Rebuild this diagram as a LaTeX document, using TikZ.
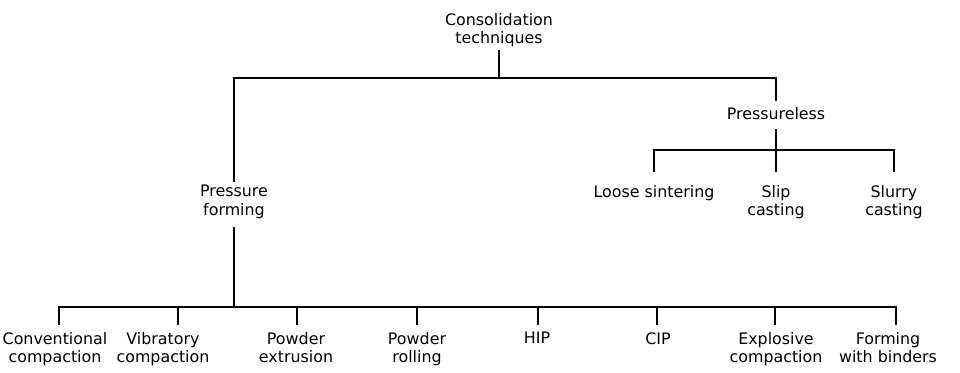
\documentclass[tikz,border=0pt]{standalone}
\usepackage{fontspec}
\setmainfont{DejaVu Sans}
\begin{document}
\begin{tikzpicture}[x=0.75pt,y=-0.75pt,
  lbl/.style={font=\fontsize{11.9}{13.9}\selectfont, align=center, inner sep=2.25pt, anchor=north},
  link/.style={line width=1.2pt, line join=miter}]
\useasboundingbox (0,0) rectangle (960,372);

% top level
\node[lbl] (root) at (499,10) {Consolidation\\techniques};
\node[lbl] (pf) at (234,182) {Pressure\\forming};
\node[lbl] (pl) at (776,104) {Pressureless};

% pressureless branch
\node[lbl] (ls)  at (654,182) {Loose sintering};
\node[lbl] (sc)  at (776,182) {Slip\\casting};
\node[lbl] (slc) at (894,182) {Slurry\\casting};

% pressure forming branch
\node[lbl] (c1) at (55,329)  {Conventional\\compaction};
\node[lbl] (c2) at (163,329) {Vibratory\\compaction};
\node[lbl] (c3) at (296,329) {Powder\\extrusion};
\node[lbl] (c4) at (417,329) {Powder\\rolling};
\node[lbl] (c5) at (537,329) {HIP};
\node[lbl] (c6) at (658,329) {CIP};
\node[lbl] (c7) at (776,329) {Explosive\\compaction};
\node[lbl] (c8) at (888,329) {Forming\\with binders};

% junction points on the horizontal bars
\coordinate (tb) at (499,78);
\coordinate (pb) at (776,150);
\coordinate (fb) at (234,307);

% connectors
\draw[link] (root.south) -- (tb);
\draw[link, shorten >=2.25pt] (pf.north) |- (tb) -| (pl.north);

\draw[link, shorten <=4.5pt] (pl.south) -- (pb);
\draw[link, shorten >=7.5pt] (pb) -- (sc.north);
\draw[link, shorten <=7.5pt, shorten >=7.5pt] (ls.north) |- (pb) -| (slc.north);

\draw[link, shorten <=4pt] (pf.south) -- (fb);
\draw[link, shorten <=3pt, shorten >=3pt] ([xshift=3pt]c1.north) |- (fb) -| ([xshift=6pt]c8.north);
\foreach \n/\dx in {c2/11.25pt, c3/0.75pt, c4/0pt, c5/0.75pt, c6/-0.75pt, c7/-0.75pt}
  \draw[link, shorten >=3pt] ([xshift=\dx]\n.north |- fb) -- ([xshift=\dx]\n.north);
\end{tikzpicture}
\end{document}
